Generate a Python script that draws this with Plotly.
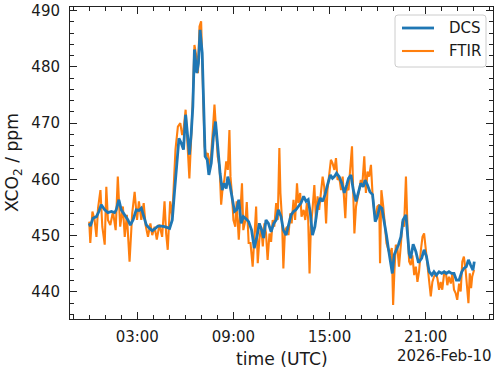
import pandas as pd
import plotly.graph_objects as go

# ---- data (minutes after 2026-02-10 00:00 UTC, XCO2 in ppm) ----
dcs_min = [0, 4, 14, 27, 36, 45, 58, 70, 83, 95, 101, 111, 120, 133, 145, 154, 164, 176,
           186, 195, 204, 214, 226, 236, 245, 257, 270, 282, 301, 311, 319, 328, 336, 344,
           353, 361, 369, 375, 382, 388, 394, 403, 409, 415, 423, 428, 434, 442, 448, 457,
           465, 473, 481, 490, 498, 504, 513, 519, 528, 535, 544, 552, 560, 569, 577, 587,
           597, 608, 618, 629, 637, 646, 653, 662, 671, 681, 691, 700, 708, 718, 727, 737,
           746, 756, 765, 774, 783, 793, 803, 812, 820, 828, 836, 845, 855, 865, 874, 883,
           892, 903, 911, 918, 926, 936, 946, 955, 964, 971, 980, 989, 999, 1008, 1017,
           1026, 1033, 1042, 1051, 1061, 1071, 1079, 1088, 1096, 1104, 1113, 1120, 1129,
           1135, 1142, 1148, 1158, 1167, 1175, 1186, 1192, 1198, 1204, 1213, 1223, 1233,
           1245, 1254, 1263, 1273, 1283, 1291, 1300, 1310, 1320, 1329, 1337, 1347, 1357,
           1366, 1375, 1385, 1395, 1403, 1412, 1420, 1428, 1437, 1442]
dcs_ppm = [452.2, 451.7, 453.1, 453.4, 454.3, 455.5, 454.6, 454.1, 454.3, 454.1, 454.6, 456.4,
           454.6, 453.7, 452.8, 451.9, 452.8, 454.6, 454.5, 454.9, 453.4, 451.9, 451.3, 450.9,
           451.2, 451.7, 451.7, 451.6, 451.3, 452.8, 457.6, 463.5, 467.3, 466.5, 465.3, 471.5,
           467.0, 464.4, 468.2, 473.0, 483.1, 478.9, 480.7, 486.6, 482.5, 473.6, 464.1, 463.5,
           460.8, 462.9, 467.6, 470.3, 465.3, 461.1, 458.1, 459.3, 458.4, 460.5, 458.7, 456.4,
           454.3, 454.6, 456.4, 452.2, 453.4, 453.0, 452.5, 451.0, 447.8, 450.1, 452.2, 451.0,
           449.6, 452.8, 452.2, 450.7, 452.2, 452.8, 454.6, 453.4, 451.0, 450.1, 451.6, 453.7,
           454.3, 454.6, 455.2, 455.8, 457.0, 456.1, 456.4, 454.0, 450.1, 451.6, 455.2, 456.7,
           456.1, 457.3, 459.0, 460.8, 460.2, 460.5, 461.1, 460.5, 459.3, 457.6, 459.0, 460.2,
           460.8, 458.1, 456.1, 457.8, 459.3, 458.7, 459.9, 459.0, 457.8, 457.3, 452.5, 453.4,
           455.2, 454.9, 452.8, 450.1, 447.8, 445.1, 443.3, 446.6, 447.2, 448.4, 449.8, 452.8,
           453.7, 449.3, 446.8, 446.0, 448.5, 447.2, 445.2, 446.0, 447.5, 446.3, 443.6, 443.0,
           443.6, 443.0, 443.6, 443.3, 443.6, 443.3, 443.6, 443.3, 443.3, 442.1, 442.1, 443.6,
           444.2, 444.5, 445.7, 444.8, 443.9, 445.4]

ftir_min = [0, 4, 12, 20, 27, 33, 42, 49, 58, 64, 70, 79, 89, 99, 107, 116, 126, 133, 141,
            151, 161, 170, 179, 186, 195, 204, 211, 220, 229, 236, 245, 253, 263, 273, 282,
            288, 294, 303, 311, 316, 323, 332, 341, 348, 353, 361, 369, 375, 382, 388, 394,
            401, 407, 413, 419, 425, 432, 438, 444, 450, 457, 463, 469, 475, 481, 488, 494,
            500, 506, 513, 519, 525, 529, 535, 540, 547, 552, 560, 565, 572, 577, 585, 590,
            597, 604, 612, 618, 625, 631, 637, 644, 650, 656, 662, 668, 675, 681, 687, 693,
            700, 706, 712, 716, 722, 727, 733, 741, 746, 753, 758, 765, 771, 778, 783, 790,
            795, 803, 809, 815, 820, 825, 830, 836, 843, 849, 855, 861, 868, 874, 880, 887,
            892, 899, 905, 911, 918, 924, 930, 936, 943, 949, 955, 959, 964, 971, 976, 984,
            989, 993, 999, 1005, 1011, 1017, 1023, 1030, 1036, 1042, 1048, 1055, 1061, 1067,
            1073, 1079, 1086, 1089, 1094, 1101, 1108, 1113, 1120, 1126, 1133, 1138, 1143,
            1148, 1154, 1160, 1167, 1173, 1179, 1186, 1192, 1198, 1204, 1210, 1217, 1223,
            1229, 1235, 1242, 1248, 1254, 1258, 1263, 1268, 1273, 1279, 1285, 1291, 1298,
            1304, 1310, 1316, 1322, 1329, 1335, 1341, 1347, 1354, 1360, 1366, 1372, 1378,
            1385, 1391, 1397, 1403, 1410, 1416, 1420, 1425, 1430, 1434, 1441]
ftir_ppm = [452.5, 448.7, 454.3, 452.8, 449.8, 454.9, 458.1, 451.6, 448.4, 458.7, 452.8, 451.9,
            454.3, 451.0, 460.5, 451.6, 455.2, 449.8, 453.7, 445.4, 454.0, 457.8, 452.8, 456.1,
            452.8, 455.8, 451.9, 449.8, 452.2, 450.1, 451.6, 449.3, 452.0, 449.8, 456.1, 450.4,
            447.5, 456.1, 453.4, 459.6, 465.3, 469.4, 470.0, 467.9, 468.8, 472.4, 465.9, 460.2,
            467.6, 474.2, 483.9, 481.9, 478.9, 487.2, 488.1, 478.9, 465.9, 464.1, 464.7, 462.0,
            464.7, 468.8, 473.3, 468.8, 464.1, 462.3, 455.5, 458.7, 459.9, 463.2, 461.7, 468.8,
            460.5, 457.0, 452.8, 451.6, 456.1, 449.3, 454.0, 459.3, 451.0, 452.8, 456.0, 448.7,
            448.7, 444.5, 449.3, 455.2, 445.1, 449.3, 451.6, 448.1, 452.2, 450.4, 445.7, 450.4,
            448.9, 452.8, 451.6, 455.8, 452.8, 465.6, 457.6, 452.8, 444.2, 451.0, 451.6, 450.1,
            454.0, 452.2, 456.4, 452.8, 459.3, 455.8, 457.6, 453.4, 454.6, 452.8, 455.8, 452.8,
            443.3, 451.6, 454.6, 459.0, 452.8, 457.0, 454.6, 458.1, 460.5, 458.7, 452.2, 458.1,
            461.1, 463.5, 462.9, 461.7, 463.8, 459.9, 460.5, 458.1, 460.5, 457.0, 453.1, 458.7,
            458.1, 461.1, 465.9, 457.0, 450.4, 455.2, 456.4, 458.1, 459.9, 459.3, 464.1, 457.6,
            461.4, 460.5, 462.6, 457.3, 454.6, 453.1, 455.2, 455.5, 445.1, 458.1, 455.2, 450.4,
            448.7, 447.5, 446.6, 447.8, 437.7, 443.9, 448.4, 447.8, 444.5, 448.4, 452.5, 451.6,
            460.5, 451.0, 445.4, 444.8, 446.5, 443.0, 444.5, 441.8, 443.6, 447.5, 449.8, 450.4,
            448.4, 446.9, 444.5, 441.5, 439.2, 441.8, 442.7, 443.3, 442.4, 440.4, 441.8, 440.4,
            443.3, 443.6, 441.2, 442.7, 441.5, 443.3, 440.4, 439.8, 438.6, 441.5, 440.1, 445.4,
            446.3, 443.6, 440.9, 438.0, 443.3, 440.7, 442.7, 443.9]

day = pd.Timestamp("2026-02-10")
x_range = ["2026-02-09 22:48", "2026-02-11 01:12"]
y_range = [435.2, 490.65]
x_ticks = ["2026-02-10 03:00", "2026-02-10 09:00", "2026-02-10 15:00", "2026-02-10 21:00"]
series_names = ["DCS", "FTIR"]
colors = {"DCS": "#1f77b4", "FTIR": "#ff7f0e"}

dcs_t = day + pd.to_timedelta(dcs_min, unit="min")
ftir_t = day + pd.to_timedelta(ftir_min, unit="min")

FONT = "DejaVu Sans"
TICK_SIZE = 15
LABEL_SIZE = 17.2
W, H = 500, 373
L, R, T, B = 70, 493, 7, 319  # plot area in pixels


def px(x):
    return (x - L) / (R - L)


def py(y):
    return (B - y) / (B - T)


fig = go.Figure()
fig.add_trace(go.Scatter(x=ftir_t, y=ftir_ppm, mode="lines", name="FTIR",
                         line=dict(color=colors["FTIR"], width=2.1)))
fig.add_trace(go.Scatter(x=dcs_t, y=dcs_ppm, mode="lines", name="DCS",
                         line=dict(color=colors["DCS"], width=2.8)))

axis_common = dict(showgrid=False, zeroline=False, showline=True, linecolor="#222",
                   linewidth=1, mirror="allticks", ticks="inside", ticklen=7,
                   tickwidth=1, tickcolor="#222", automargin=False,
                   tickfont=dict(family=FONT, size=TICK_SIZE, color="#1a1a1a"))

fig.update_xaxes(type="date", range=x_range, tickvals=x_ticks, tickformat="%H:%M",
                 ticklabelstandoff=4,
                 minor=dict(ticks="inside", ticklen=4, tickwidth=1, tickcolor="#222",
                            dtick=3600000, tick0="2026-02-10 00:00", showgrid=False),
                 **axis_common)
fig.update_yaxes(range=y_range, tickvals=[440, 450, 460, 470, 480, 490],
                 ticklabelstandoff=6,
                 minor=dict(ticks="inside", ticklen=4, tickwidth=1, tickcolor="#222",
                            dtick=2, tick0=440, showgrid=False),
                 **axis_common)

annotations = [
    dict(text="time (UTC)", x=0.5, y=0, xref="paper", yref="paper", xanchor="center",
         yanchor="top", yshift=-28, showarrow=False,
         font=dict(family=FONT, size=LABEL_SIZE, color="#1a1a1a")),
    dict(text="XCO<sub>2</sub> / ppm", x=0, y=0.5, xref="paper", yref="paper",
         xanchor="center", yanchor="middle", xshift=-57, textangle=-90, showarrow=False,
         font=dict(family=FONT, size=LABEL_SIZE, color="#1a1a1a")),
    dict(text="2026-Feb-10", x=1, y=0, xref="paper", yref="paper", xanchor="right",
         yanchor="top", yshift=-26, xshift=1, showarrow=False,
         font=dict(family=FONT, size=TICK_SIZE, color="#1a1a1a")),
]

# legend (drawn manually to mimic the boxed legend)
lx0, lx1, ly0, ly1 = px(395), px(486), py(67), py(15)
rx, ry = 3 / (R - L), 3 / (B - T)
path = (f"M {lx0+rx},{ly1} L {lx1-rx},{ly1} Q {lx1},{ly1} {lx1},{ly1-ry} "
        f"L {lx1},{ly0+ry} Q {lx1},{ly0} {lx1-rx},{ly0} L {lx0+rx},{ly0} "
        f"Q {lx0},{ly0} {lx0},{ly0+ry} L {lx0},{ly1-ry} Q {lx0},{ly1} {lx0+rx},{ly1} Z")
shapes = [dict(type="path", path=path, xref="paper", yref="paper",
               fillcolor="rgba(255,255,255,0.8)", line=dict(color="#cccccc", width=1))]
for i, name in enumerate(series_names):
    yy = py(28 + 23 * i)
    shapes.append(dict(type="line", xref="paper", yref="paper", x0=px(402), x1=px(434),
                       y0=yy, y1=yy, line=dict(color=colors[name], width=2.8 if name == "DCS" else 2.1)))
    annotations.append(dict(text=name, x=px(447), y=yy, xref="paper", yref="paper",
                            xanchor="left", yanchor="middle", showarrow=False,
                            font=dict(family=FONT, size=TICK_SIZE, color="#1a1a1a")))

fig.update_layout(width=W, height=H, margin=dict(l=L, r=W - R, t=T, b=H - B),
                  plot_bgcolor="white", paper_bgcolor="white", showlegend=False,
                  annotations=annotations, shapes=shapes,
                  font=dict(family=FONT, size=TICK_SIZE, color="#1a1a1a"))

fig.write_html("out.html", config={"displayModeBar": False},
               post_script="document.body.style.margin='0';document.body.style.padding='0';")
